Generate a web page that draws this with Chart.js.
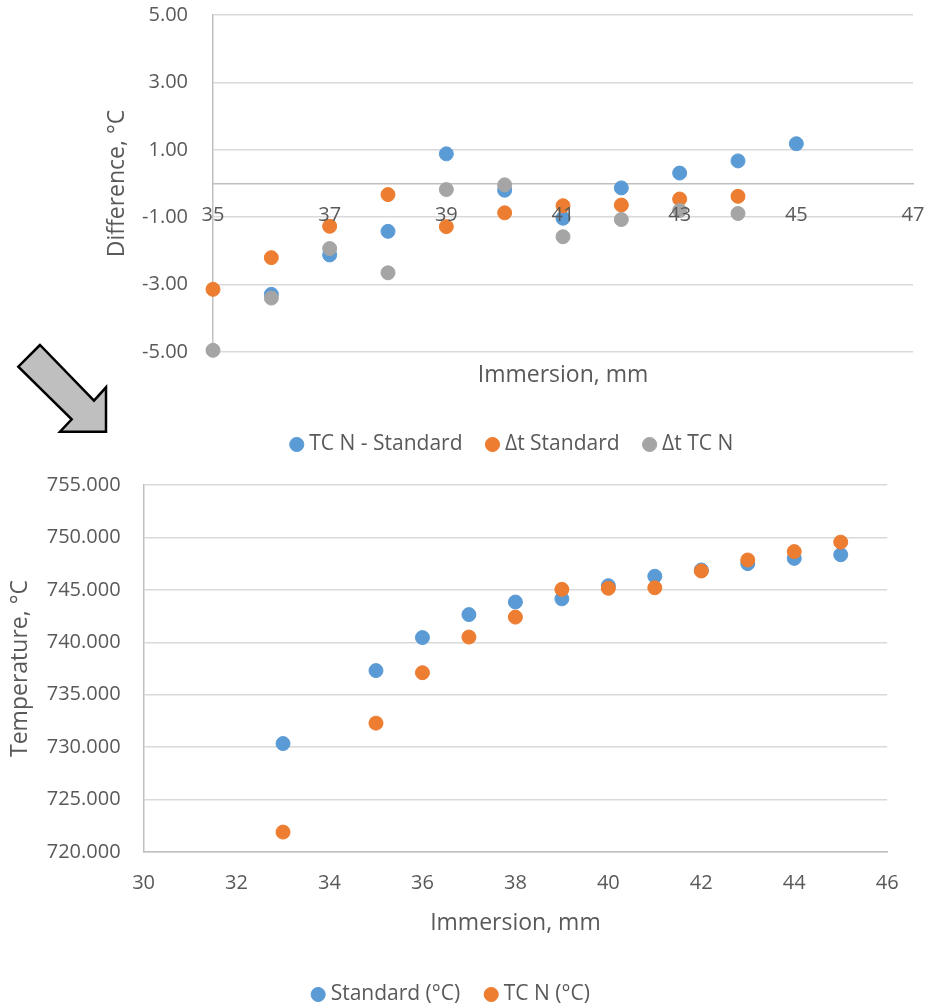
<!DOCTYPE html>
<html>
<head>
<meta charset="utf-8">
<script src="https://cdn.jsdelivr.net/npm/chart.js@4.4.1/dist/chart.umd.min.js"></script>
<style>
  html, body { margin: 0; padding: 0; background: #fff; overflow: hidden; }
  body { width: 937px; height: 1008px; position: relative; }
  .box { position: absolute; left: 0; width: 937px; }
  #topBox { top: 0; height: 465px; }
  #botBox { top: 470px; height: 545px; }
  #arrow { position: absolute; left: 0; top: 0; }
</style>
</head>
<body>
<div class="box" id="topBox"><canvas id="diffChart"></canvas></div>
<div class="box" id="botBox"><canvas id="tempChart"></canvas></div>
<svg id="arrow" width="120" height="440">
  <polygon points="40,345 18.3,366.7 71.7,419.3 60,431.7 106,431.7 106,387.3 94,400.7"
           fill="#bfbfbf" stroke="#000" stroke-width="2.5" stroke-linejoin="miter"/>
</svg>
<script>
// top chart - differences
const diffX = [35, 36, 37, 38, 39, 40, 41, 42, 43, 44, 45];
const tcnMinusStd = [null, -3.29, -2.12, -1.42, 0.88, -0.2, -1.03, -0.13, 0.31, 0.67, 1.18];
const dtStandard = [-3.14, -2.2, -1.27, -0.33, -1.28, -0.87, -0.66, -0.64, -0.46, -0.38, null];
const dtTcn = [-4.95, -3.4, -1.93, -2.65, -0.18, -0.04, -1.58, -1.07, -0.8, -0.89, null];
const diffXTicks = [35, 37, 39, 41, 43, 45, 47];
const diffYTicks = [-5, -3, -1, 1, 3, 5];

// bottom chart - temperatures
const tempX = [33, 35, 36, 37, 38, 39, 40, 41, 42, 43, 44, 45];
const standardC = [730.34, 737.3, 740.45, 742.64, 743.84, 744.14, 745.4, 746.3, 746.9, 747.5, 748.0, 748.35];
const tcnC = [721.9, 732.29, 737.1, 740.5, 742.4, 745.05, 745.15, 745.2, 746.8, 747.85, 748.65, 749.55];
const tempXTicks = [30, 32, 34, 36, 38, 40, 42, 44, 46];
const tempYTicks = [720, 725, 730, 735, 740, 745, 750, 755];

const grey = '#595959', gridCol = '#d9d9d9', axisCol = '#bfbfbf', none = 'rgba(0,0,0,0)';
const blue = '#5b9bd5', orange = '#ed7d31', silver = '#a5a5a5';

Chart.defaults.font.family = "'Open Sans', sans-serif";
Chart.defaults.color = grey;

function pts(xs, ys) {
  return xs.map((x, i) => ({x: x, y: ys[i]})).filter(p => p.y !== null);
}
function setTicks(arr) {
  return s => { s.ticks = arr.map(v => ({value: v})); };
}
function series(label, xs, ys, col, order) {
  return {label: label, data: pts(xs, ys), backgroundColor: col, borderColor: col, order: order, clip: false};
}
const legendOpts = (pad) => ({
  position: 'bottom',
  labels: {
    usePointStyle: true, pointStyle: 'circle', boxWidth: 4, boxHeight: 10,
    padding: pad, font: {size: 21}, color: grey,
    sort: (a, b) => a.datasetIndex - b.datasetIndex
  }
});
// invisible tick marks push the labels away from the axis
// without adding to the layout padding
const hiddenTicks = (len) => ({color: none, tickColor: none, drawTicks: true, tickLength: len});

new Chart(document.getElementById('diffChart'), {
  type: 'scatter',
  data: {
    datasets: [
      series('TC N - Standard', diffX, tcnMinusStd, blue, 3),
      series('Δt Standard', diffX, dtStandard, orange, 2),
      series('Δt TC N', diffX, dtTcn, silver, 1)
    ]
  },
  options: {
    responsive: true, maintainAspectRatio: false, animation: false,
    layout: {padding: {left: 115, right: 24, top: 15, bottom: 0}},
    elements: {point: {radius: 7, hoverRadius: 7, borderWidth: 1}},
    plugins: {tooltip: {enabled: false}, legend: legendOpts(28)},
    scales: {
      x: {
        type: 'linear', position: {y: 0},
        min: diffXTicks[0], max: diffXTicks[diffXTicks.length - 1],
        afterBuildTicks: setTicks(diffXTicks),
        grid: hiddenTicks(19.5),
        border: {color: axisCol, width: 1.5},
        ticks: {padding: 0, font: {size: 20}, color: grey, z: 1, maxRotation: 0, autoSkip: false}
      },
      xt: {
        type: 'linear', axis: 'x', position: 'bottom', min: 0, max: 1,
        grid: {display: false, drawTicks: false},
        border: {display: false},
        ticks: {display: false},
        title: {display: true, text: 'Immersion, mm', font: {size: 23}, color: grey, padding: {top: 0, bottom: 17.2}},
        afterFit: s => { s.height = 54; }
      },
      y: {
        type: 'linear', position: 'left',
        min: diffYTicks[0], max: diffYTicks[diffYTicks.length - 1],
        afterBuildTicks: setTicks(diffYTicks),
        grid: {color: gridCol, lineWidth: 1.5, drawTicks: true, tickLength: 25, tickColor: none},
        border: {color: axisCol, width: 1.5},
        ticks: {padding: 0, font: {size: 20}, color: grey, callback: v => v.toFixed(2)},
        title: {display: true, text: 'Difference, °C', font: {size: 23}, color: grey, padding: {top: -11.3, bottom: 0}},
        afterFit: s => { s.width = 98; }
      }
    }
  }
});

new Chart(document.getElementById('tempChart'), {
  type: 'scatter',
  data: {
    datasets: [
      series('Standard (°C)', tempX, standardC, blue, 2),
      series('TC N (°C)', tempX, tcnC, orange, 1)
    ]
  },
  options: {
    responsive: true, maintainAspectRatio: false, animation: false,
    layout: {padding: {left: 18.8, right: 49.8, top: 15, bottom: 0}},
    elements: {point: {radius: 7, hoverRadius: 7, borderWidth: 1}},
    plugins: {tooltip: {enabled: false}, legend: legendOpts(29)},
    scales: {
      x: {
        type: 'linear', position: 'bottom',
        min: tempXTicks[0], max: tempXTicks[tempXTicks.length - 1],
        afterBuildTicks: setTicks(tempXTicks),
        grid: hiddenTicks(19),
        border: {color: axisCol, width: 1.5},
        ticks: {padding: 0, font: {size: 20}, color: grey, maxRotation: 0, autoSkip: false},
        title: {display: true, text: 'Immersion, mm', font: {size: 23}, color: grey, padding: {top: 0, bottom: 18.2}},
        afterFit: s => { s.height = 103; }
      },
      y: {
        type: 'linear', position: 'left',
        min: tempYTicks[0], max: tempYTicks[tempYTicks.length - 1],
        afterBuildTicks: setTicks(tempYTicks),
        grid: {color: gridCol, lineWidth: 1.5, drawTicks: true, tickLength: 23, tickColor: none},
        border: {color: axisCol, width: 1.5},
        ticks: {padding: 0, font: {size: 20}, color: grey, callback: v => v.toFixed(3)},
        title: {display: true, text: 'Temperature, °C', font: {size: 23}, color: grey, padding: {top: -12.6, bottom: 0}},
        afterFit: s => { s.width = 124.8; }
      }
    }
  }
});
</script>
</body>
</html>
